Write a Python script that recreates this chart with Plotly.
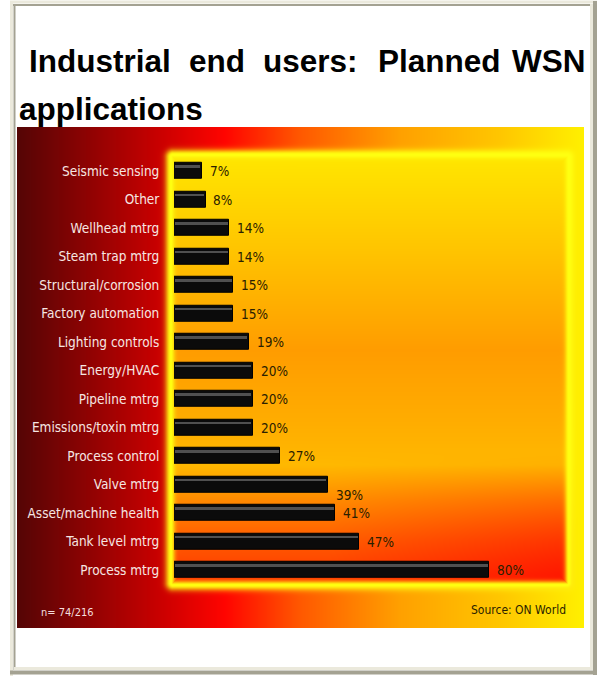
import base64
import struct
import zlib

import numpy as np
import plotly.graph_objects as go

# ---------------- data ----------------
categories = [
    "Seismic sensing", "Other", "Wellhead mtrg", "Steam trap mtrg",
    "Structural/corrosion", "Factory automation", "Lighting controls",
    "Energy/HVAC", "Pipeline mtrg", "Emissions/toxin mtrg", "Process control",
    "Valve mtrg", "Asset/machine health", "Tank level mtrg", "Process mtrg",
]
values = [7, 8, 14, 14, 15, 15, 19, 20, 20, 20, 27, 39, 41, 47, 80]
value_labels = [f"{v}%" for v in values]
title_words = ["Industrial", "end", "users:", "Planned", "WSN"]
title_line2 = "applications"
note_text = "n= 74/216"
source_text = "Source: ON World"

# ---------------- geometry helpers ----------------
FW, FH = 605, 677


def px(x):
    return x / FW


def py(y):
    return 1 - y / FH


# ---------------- background image (gradient panel) ----------------
IX0, IY0, IW, IH = 17, 127, 567, 501
PL, PR, PT, PB = 173, 567, 157, 583


def hex2rgb(h):
    h = h.lstrip("#")
    return [int(h[i:i + 2], 16) for i in (0, 2, 4)]


def ramp(v, stops):
    pos = np.array([s[0] for s in stops], dtype=float)
    cols = np.array([hex2rgb(s[1]) for s in stops], dtype=float)
    return np.stack([np.interp(v, pos, cols[:, k]) for k in range(3)], -1)


xs = np.arange(IW) + IX0 + 0.5
ys = np.arange(IH) + IY0 + 0.5
XX, YY = np.meshgrid(xs, ys)

outer = ramp(XX, [(17, "#540505"), (100, "#980202"), (163, "#cc0000"),
                  (225, "#ff0400"), (300, "#ff5800"), (400, "#ffa000"),
                  (500, "#ffc600"), (584, "#fff000")])
inner = ramp(YY, [(157, "#ffe600"), (250, "#ffc400"), (350, "#ff9c00"),
                  (420, "#ffac00"), (465, "#ffb800"), (500, "#ff8a00"),
                  (540, "#ff5c00"), (583, "#ff3400")])
redw = np.clip((YY - 450) / 133, 0, 1) ** 1.3 * np.clip((XX - 330) / 237, 0, 1) * 0.75
inner = inner * (1 - redw[..., None]) + np.array(hex2rgb("#ff0800")) * redw[..., None]

dx = np.maximum(np.maximum(PL - XX, XX - PR), 0)
dy = np.maximum(np.maximum(PT - YY, YY - PB), 0)
d_out = np.hypot(dx, dy)
d_in = np.minimum(np.minimum(XX - PL, PR - XX), np.minimum(YY - PT, PB - YY))
s = np.where(d_out > 0, d_out, -np.maximum(d_in, 0))
m = 1 / (1 + np.exp(-(s - 3) / 1.5))
base = inner * (1 - m[..., None]) + outer * m[..., None]
g = np.where(s > 2, np.exp(-((s - 2) / 5.5) ** 2), np.exp(-((s - 2) / 4.0) ** 2))
glow = np.array(hex2rgb("#ffff10"), dtype=float)
col = base * (1 - g[..., None]) + glow * g[..., None]
img = np.clip(col + 0.5, 0, 255).astype(np.uint8)

raw = b"".join(b"\x00" + img[r].tobytes() for r in range(IH))


def chunk(t, d):
    c = struct.pack(">I", len(d)) + t + d
    return c + struct.pack(">I", zlib.crc32(t + d) & 0xFFFFFFFF)


png = (b"\x89PNG\r\n\x1a\n"
       + chunk(b"IHDR", struct.pack(">IIBBBBB", IW, IH, 8, 2, 0, 0, 0))
       + chunk(b"IDAT", zlib.compress(raw, 9))
       + chunk(b"IEND", b""))
src = "data:image/png;base64," + base64.b64encode(png).decode()

# ---------------- figure ----------------
NARROW = "DejaVu Sans Condensed, Liberation Sans Narrow, Arial Narrow, sans-serif"
fig = go.Figure()

fig.add_trace(go.Bar(
    x=values, y=categories, orientation="h", width=0.56,
    marker=dict(color="#0b0b0b", line=dict(color="#000000", width=1)),
    hoverinfo="skip", showlegend=False,
))
fig.add_trace(go.Bar(
    x=[v - 0.7 for v in values], y=categories, base=0.35, orientation="h",
    width=0.08, offset=-0.21,
    marker=dict(color="rgba(110,110,110,0.7)", line=dict(width=0)),
    hoverinfo="skip", showlegend=False,
))

XMAX = 100
x_left = 174
x_right = x_left + (489 - 174) / 80 * XMAX
row_top, row_bot = 171, 570
pitch = (row_bot - row_top) / (len(categories) - 1)
y_top = row_top - pitch / 2
y_bot = row_bot + pitch / 2

fig.update_layout(
    width=FW, height=FH,
    margin=dict(l=0, r=0, t=0, b=0),
    paper_bgcolor="white", plot_bgcolor="rgba(0,0,0,0)",
    barmode="overlay", bargap=0,
    xaxis=dict(domain=[px(x_left), px(x_right)], range=[0, XMAX],
               visible=False, fixedrange=True),
    yaxis=dict(domain=[py(y_bot), py(y_top)], autorange="reversed",
               type="category", showgrid=False, zeroline=False, showline=False,
               ticks="outside", ticklen=11, tickcolor="rgba(0,0,0,0)",
               tickfont=dict(family=NARROW, size=13.5, color="#f6e6e2"),
               fixedrange=True),
    images=[dict(source=src, xref="paper", yref="paper",
                 x=px(IX0), y=py(IY0), sizex=IW / FW, sizey=IH / FH,
                 xanchor="left", yanchor="top", sizing="stretch",
                 layer="below")],
)

annotations = []
label_dy = {"39%": -10}
for cat, lab, v in zip(categories, value_labels, values):
    annotations.append(dict(
        x=v, y=cat, xref="x", yref="y", text=lab, showarrow=False,
        xanchor="left", yanchor="middle", xshift=6, yshift=label_dy.get(lab, 0),
        font=dict(family=NARROW, size=13.5, color="#2a2000"),
    ))

# title (justified first line)
TFONT = dict(family="Liberation Sans, Arial, sans-serif", size=31.5, color="#000000")
word_x = [28, 188, 262, 377, 587]
word_anchor = ["left", "left", "left", "left", "right"]
for w, x, a in zip(title_words, word_x, word_anchor):
    annotations.append(dict(x=px(x), y=py(61), xref="paper", yref="paper",
                            text=f"<b>{w}</b>", showarrow=False,
                            xanchor=a, yanchor="middle", font=TFONT,
                            borderpad=0))
annotations.append(dict(x=px(18), y=py(109), xref="paper", yref="paper",
                        text=f"<b>{title_line2}</b>", showarrow=False,
                        xanchor="left", yanchor="middle", font=TFONT,
                        borderpad=0))

annotations.append(dict(x=px(39), y=py(612), xref="paper", yref="paper",
                        text=note_text, showarrow=False, xanchor="left",
                        yanchor="middle",
                        font=dict(family=NARROW, size=11, color="#f4dede")))
annotations.append(dict(x=px(568), y=py(610), xref="paper", yref="paper",
                        text=source_text, showarrow=False, xanchor="right",
                        yanchor="middle",
                        font=dict(family=NARROW, size=12, color="#2a1e00")))
fig.update_layout(annotations=annotations)

# page frame (inset border)
LIGHT, DARK = "#ebe9dc", "#a4a292"
shapes = []


def hline(x0, x1, y, c, w):
    shapes.append(dict(type="line", xref="paper", yref="paper",
                       x0=px(x0), x1=px(x1), y0=py(y), y1=py(y),
                       line=dict(color=c, width=w)))


def vline(x, y0, y1, c, w):
    shapes.append(dict(type="line", xref="paper", yref="paper",
                       x0=px(x), x1=px(x), y0=py(y0), y1=py(y1),
                       line=dict(color=c, width=w)))


hline(10, 597, 2, LIGHT, 3)
vline(11.5, 1, 676, LIGHT, 3)
hline(13, 592, 5, DARK, 2)
vline(14.5, 4, 670, DARK, 2)
hline(14, 593, 668.5, LIGHT, 3)
vline(591.5, 4, 670, LIGHT, 3)
hline(10, 597, 672.5, DARK, 4)
vline(595, 1, 675, DARK, 4)
fig.update_layout(shapes=shapes)

fig.write_html(
    "out.html",
    config={"displayModeBar": False},
    post_script="document.body.style.margin='0';document.body.style.padding='0';",
)
